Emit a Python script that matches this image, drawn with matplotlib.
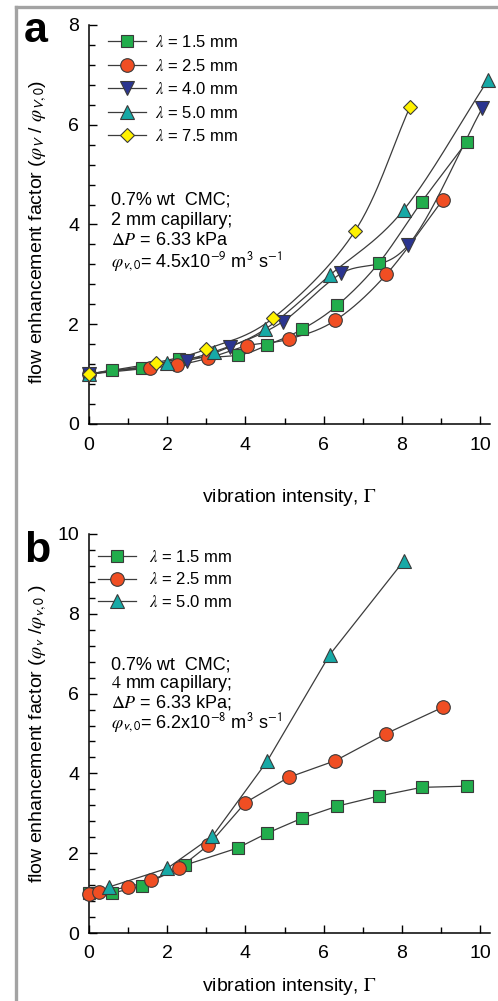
import numpy as np
import matplotlib
matplotlib.use("Agg")
import matplotlib.pyplot as plt
from matplotlib.lines import Line2D
from matplotlib.ticker import MultipleLocator

plt.rcParams['font.family'] = ['Liberation Sans', 'DejaVu Sans']
plt.rcParams['mathtext.fontset'] = 'stix'

# ---------------- data: panel a (2 mm capillary) ----------------
a_x_15 = [0, 0.6, 1.35, 2.3, 3.8, 4.55, 5.45, 6.35, 7.4, 8.5, 9.65]
a_y_15 = [1.0, 1.08, 1.12, 1.3, 1.38, 1.58, 1.9, 2.38, 3.22, 4.45, 5.65]
a_x_25 = [0, 1.55, 2.25, 3.05, 4.05, 5.1, 6.3, 7.6, 9.05]
a_y_25 = [1.0, 1.12, 1.18, 1.32, 1.57, 1.7, 2.08, 3.0, 4.5]
a_x_40 = [0, 2.5, 3.6, 4.95, 6.45, 8.15, 10.05]
a_y_40 = [1.0, 1.27, 1.55, 2.05, 3.02, 3.58, 6.33]
a_x_50 = [0, 2.0, 3.2, 4.5, 6.15, 8.05, 10.2]
a_y_50 = [1.0, 1.22, 1.45, 1.9, 2.98, 4.3, 6.9]
a_x_75 = [0, 1.7, 3.0, 4.7, 6.8, 8.2]
a_y_75 = [1.0, 1.23, 1.5, 2.12, 3.87, 6.35]

# ---------------- data: panel b (4 mm capillary) ----------------
b_x_15 = [0, 0.6, 1.35, 2.45, 3.8, 4.55, 5.45, 6.35, 7.4, 8.5, 9.65]
b_y_15 = [1.0, 1.0, 1.18, 1.7, 2.13, 2.5, 2.88, 3.18, 3.43, 3.65, 3.68]
b_x_25 = [0, 0.25, 1.0, 1.58, 2.3, 3.05, 4.0, 5.1, 6.3, 7.6, 9.05]
b_y_25 = [0.98, 1.03, 1.15, 1.32, 1.62, 2.2, 3.27, 3.9, 4.32, 5.0, 5.66]
b_x_50 = [0.5, 2.0, 3.15, 4.55, 6.15, 8.05]
b_y_50 = [1.15, 1.62, 2.42, 4.3, 6.97, 9.33]

labels_a = [r"$\lambda$ = 1.5 mm", r"$\lambda$ = 2.5 mm", r"$\lambda$ = 4.0 mm",
            r"$\lambda$ = 5.0 mm", r"$\lambda$ = 7.5 mm"]
labels_b = [r"$\lambda$ = 1.5 mm", r"$\lambda$ = 2.5 mm", r"$\lambda$ = 5.0 mm"]

GREEN = "#22ad4c"
RED = "#f04e23"
BLUE = "#2b3590"
TEAL = "#17a9a6"
YELLOW = "#fff200"
EDGE = "#3a3a3a"
LINE = "#3c3c3c"

styles = {
    "15": dict(marker="s", color=GREEN, ms=9.0),
    "25": dict(marker="o", color=RED, ms=9.8),
    "40": dict(marker="v", color=BLUE, ms=9.8),
    "50": dict(marker="^", color=TEAL, ms=9.8),
    "75": dict(marker="D", color=YELLOW, ms=7.6),
}


def smooth(x, y, n=30):
    """Catmull-Rom curve through the data points (for drawing only)."""
    P = np.column_stack([x, y]).astype(float)
    P = np.vstack([2 * P[0] - P[1], P, 2 * P[-1] - P[-2]])
    out = []
    for i in range(1, len(P) - 2):
        p0, p1, p2, p3 = P[i - 1], P[i], P[i + 1], P[i + 2]
        t = np.linspace(0, 1, n)[:, None]
        seg = 0.5 * ((2 * p1) + (-p0 + p2) * t + (2 * p0 - 5 * p1 + 4 * p2 - p3) * t ** 2
                     + (-p0 + 3 * p1 - 3 * p2 + p3) * t ** 3)
        out.append(seg)
    c = np.vstack(out)
    return c[:, 0], c[:, 1]


W, H = 498, 1001
fig = plt.figure(figsize=(W / 100, H / 100), dpi=100)

# gray frame (top and left)
fig.add_artist(Line2D([15.5 / W, 15.5 / W], [0, 1 - 7 / H], color="#a3a3a3", lw=2.4,
                      transform=fig.transFigure))
fig.add_artist(Line2D([15.5 / W, 1], [1 - 7 / H, 1 - 7 / H], color="#a3a3a3", lw=2.4,
                      transform=fig.transFigure))

axA = fig.add_axes([89 / W, (H - 424) / H, 401 / W, 399 / H])
axB = fig.add_axes([89 / W, (H - 933) / H, 401 / W, 399 / H])

TICK_FS = 14
TXT_FS = 13
LEG_FS = 12
LAB_FS = 14


def style_axes(ax, ymax):
    ax.set_xlim(0, 10.25)
    ax.set_ylim(0, ymax)
    for s in ("top", "right"):
        ax.spines[s].set_visible(False)
    for s in ("left", "bottom"):
        ax.spines[s].set_linewidth(1.1)
    ax.xaxis.set_major_locator(MultipleLocator(2))
    ax.xaxis.set_minor_locator(MultipleLocator(1))
    ax.yaxis.set_major_locator(MultipleLocator(2))
    ax.yaxis.set_minor_locator(MultipleLocator(0.4))
    ax.tick_params(which="both", direction="in", width=1.0, labelsize=TICK_FS)
    ax.tick_params(which="major", length=6)
    ax.tick_params(which="minor", length=4.5)
    ax.tick_params(axis="x", pad=9)
    ax.tick_params(axis="y", pad=7)


# ---------------- panel a ----------------
style_axes(axA, 8)
series_a = [("15", a_x_15, a_y_15), ("25", a_x_25, a_y_25), ("40", a_x_40, a_y_40),
            ("50", a_x_50, a_y_50), ("75", a_x_75, a_y_75)]
for key, xs, ys in series_a:
    sx, sy = smooth(xs, ys)
    axA.plot(sx, sy, color=LINE, lw=0.9, zorder=2)
handles = []
for (key, xs, ys), lab in zip(series_a, labels_a):
    st = styles[key]
    axA.plot(xs, ys, linestyle="none", marker=st["marker"], ms=st["ms"],
             mfc=st["color"], mec=EDGE, mew=0.8, zorder=3, clip_on=False)
    handles.append(Line2D([], [], color=LINE, lw=0.9, marker=st["marker"], ms=st["ms"],
                          mfc=st["color"], mec=EDGE, mew=0.8, label=lab))
axA.legend(handles=handles, loc="upper left", bbox_to_anchor=(0.047, 0.977),
           frameon=False, fontsize=LEG_FS, handlelength=2.3, handletextpad=0.55,
           labelspacing=0.45, borderpad=0, borderaxespad=0)

txt_a = ["0.7% wt  CMC;", "2 mm capillary;", r"$\Delta P$ = 6.33 kPa",
         r"$\varphi_{\mathsf{v,0}}$= 4.5x10$^{\mathsf{-9}}$ m$^{\mathsf{3}}$ s$^{\mathsf{-1}}$"]
for t, yy in zip(txt_a, [0.561, 0.511, 0.461, 0.405]):
    axA.text(0.055, yy, t, transform=axA.transAxes, fontsize=TXT_FS, va="center", ha="left")

axA.set_xlabel(r"vibration intensity, $\mathrm{\Gamma}$", fontsize=LAB_FS)
axA.xaxis.set_label_coords(0.5, -0.157)
axA.set_ylabel(r"flow enhancement factor ($\varphi_{\mathsf{V}}$ / $\varphi_{\mathsf{V,0}}$)",
               fontsize=LAB_FS)
axA.yaxis.set_label_coords(-0.10, 0.48)

# ---------------- panel b ----------------
style_axes(axB, 10)
series_b = [("15", b_x_15, b_y_15), ("25", b_x_25, b_y_25), ("50", b_x_50, b_y_50)]
handles = []
for (key, xs, ys), lab in zip(series_b, labels_b):
    axB.plot(xs, ys, color=LINE, lw=0.9, zorder=2)
for (key, xs, ys), lab in zip(series_b, labels_b):
    st = styles[key]
    axB.plot(xs, ys, linestyle="none", marker=st["marker"], ms=st["ms"],
             mfc=st["color"], mec=EDGE, mew=0.8, zorder=3, clip_on=False)
    handles.append(Line2D([], [], color=LINE, lw=0.9, marker=st["marker"], ms=st["ms"],
                          mfc=st["color"], mec=EDGE, mew=0.8, label=lab))
axB.legend(handles=handles, loc="upper left", bbox_to_anchor=(0.022, 0.962),
           frameon=False, fontsize=LEG_FS, handlelength=2.3, handletextpad=0.8,
           labelspacing=0.38, borderpad=0, borderaxespad=0)

txt_b = ["0.7% wt  CMC;", r"$\mathsf{\it 4}$ mm capillary;", r"$\Delta P$ = 6.33 kPa;",
         r"$\varphi_{\mathsf{v,0}}$= 6.2x10$^{\mathsf{-8}}$ m$^{\mathsf{3}}$ s$^{\mathsf{-1}}$"]
for t, yy in zip(txt_b, [0.672, 0.625, 0.578, 0.527]):
    axB.text(0.055, yy, t, transform=axB.transAxes, fontsize=TXT_FS, va="center", ha="left")

axB.set_xlabel(r"vibration intensity, $\mathrm{\Gamma}$", fontsize=LAB_FS)
axB.xaxis.set_label_coords(0.5, -0.108)
axB.set_ylabel(r"flow enhancement factor ($\varphi_{\mathsf{v}}$ /$\varphi_{\mathsf{v,0}}$ )",
               fontsize=LAB_FS)
axB.yaxis.set_label_coords(-0.10, 0.5)

# panel letters
fig.text(24 / W, 1 - 42 / H, "a", fontsize=31, fontweight="bold", va="baseline")
fig.text(24 / W, 1 - 562 / H, "b", fontsize=31, fontweight="bold", va="baseline")

fig.savefig("out.png", dpi=100)
